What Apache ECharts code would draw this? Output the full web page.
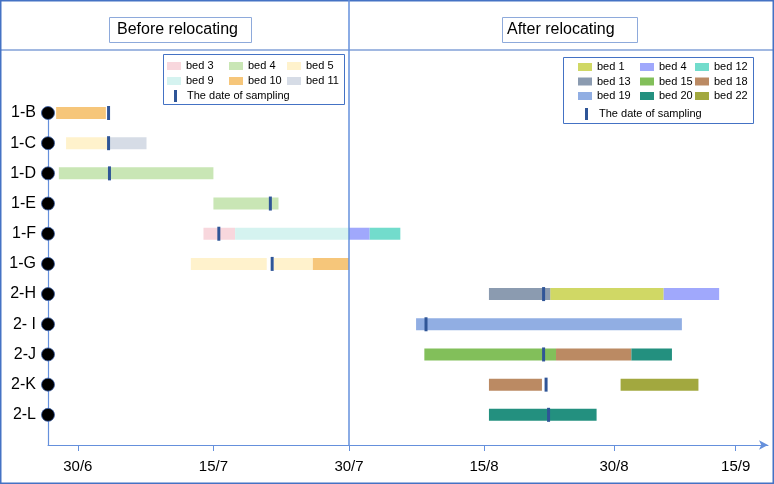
<!DOCTYPE html>
<html>
<head>
<meta charset="utf-8">
<script src="https://cdn.jsdelivr.net/npm/echarts@6/dist/echarts.min.js"></script>
<style>
  html, body { margin: 0; padding: 0; background: #fff; }
  #chart { width: 774px; height: 484px; }
</style>
</head>
<body>
<div id="chart"></div>
<script>
// rows (top to bottom), last slot is the empty space above the x axis
var rows = ['1-B', '1-C', '1-D', '1-E', '1-F', '1-G', '2-H', '2- I', '2-J', '2-K', '2-L'];

// x values are days counted from 30/6
var tickLabels = ['30/6', '15/7', '30/7', '15/8', '30/8', '15/9'];
var tickDays = [0, 15, 30, 46.3, 62, 76.7];

// before relocating: [start, end, row]
var bed3 = [[13.9, 17.4, '1-F']];
var bed4Before = [[-2.1, 15.0, '1-D'], [15.0, 22.2, '1-E']];
var bed5 = [[-1.3, 3.4, '1-C'], [12.5, 20.9, '1-G'], [21.7, 26.0, '1-G']];
var bed9 = [[17.4, 30, '1-F']];
var bed10 = [[-2.4, 3.1, '1-B'], [26.0, 30, '1-G']];
var bed11 = [[3.5, 7.6, '1-C']];
var samplingBefore = [[3.4, '1-B'], [3.4, '1-C'], [3.5, '1-D'], [21.3, '1-E'], [15.6, '1-F'], [21.5, '1-G']];

// after relocating
var bed1 = [[54.3, 68.0, '2-H']];
var bed4After = [[30, 32.5, '1-F'], [68.0, 74.7, '2-H']];
var bed12 = [[32.5, 36.2, '1-F']];
var bed13 = [[46.9, 54.3, '2-H']];
var bed15 = [[39.1, 55.0, '2-J']];
var bed18 = [[55.0, 64.1, '2-J'], [46.9, 53.3, '2-K']];
var bed19 = [[38.1, 70.2, '2- I']];
var bed20 = [[64.1, 69.0, '2-J'], [46.9, 59.9, '2-L']];
var bed22 = [[62.8, 72.2, '2-K']];
var samplingAfter = [[53.5, '2-H'], [39.3, '2- I'], [53.5, '2-J'], [53.8, '2-K'], [54.1, '2-L']];

var blue = '#4472c4';
var axisBlue = '#6590dc';
var markColor = '#2f5597';
var font = 'Liberation Sans, Arial, sans-serif';

var chart = echarts.init(document.getElementById('chart'));

function renderBar(params, api) {
  var s = api.coord([api.value(0), api.value(2)]);
  var e = api.coord([api.value(1), api.value(2)]);
  var h = 12;
  return {
    type: 'rect',
    shape: { x: s[0], y: s[1] - h / 2, width: e[0] - s[0], height: h },
    style: { fill: api.visual('color') }
  };
}

function renderMark(params, api) {
  var p = api.coord([api.value(0), api.value(1)]);
  return {
    type: 'rect',
    shape: { x: p[0] - 1.5, y: p[1] - 7, width: 3, height: 14 },
    style: { fill: markColor }
  };
}

function barSeries(name, data, color, idx) {
  return {
    name: name,
    type: 'custom',
    xAxisIndex: idx,
    yAxisIndex: idx,
    renderItem: renderBar,
    itemStyle: { color: color },
    encode: { x: [0, 1], y: 2 },
    data: data,
    z: 3
  };
}

function markSeries(data, idx) {
  return {
    name: 'The date of sampling',
    type: 'custom',
    xAxisIndex: idx,
    yAxisIndex: idx,
    renderItem: renderMark,
    itemStyle: { color: markColor },
    encode: { x: 0, y: 1 },
    data: data,
    z: 5
  };
}

var legendText = { color: '#000', fontFamily: font, fontSize: 11, lineHeight: 14 };

function colLegend(left, top, items) {
  return {
    orient: 'vertical',
    left: left,
    top: top,
    padding: 0,
    itemGap: 1,
    itemWidth: 14,
    itemHeight: 8,
    icon: 'rect',
    selectedMode: false,
    textStyle: legendText,
    data: items
  };
}

function markLegend(left, top) {
  return {
    left: left,
    top: top,
    padding: 0,
    itemWidth: 3,
    itemHeight: 12,
    icon: 'rect',
    selectedMode: false,
    textStyle: Object.assign({}, legendText, { padding: [0, 0, 0, 5] }),
    data: ['The date of sampling']
  };
}

function xAxis(idx, min, max, ticks, arrow) {
  return {
    gridIndex: idx,
    type: 'value',
    min: min,
    max: max,
    axisLine: {
      show: true,
      onZero: false,
      lineStyle: { color: axisBlue, width: 1 },
      symbol: arrow ? ['none', 'arrow'] : ['none', 'none'],
      symbolSize: [7, 9]
    },
    axisTick: { show: true, length: 6, customValues: ticks, lineStyle: { color: axisBlue } },
    axisLabel: {
      customValues: ticks,
      margin: 14,
      color: '#000',
      fontFamily: font,
      fontSize: 15,
      formatter: function (v) { return tickLabels[tickDays.indexOf(v)]; }
    },
    splitLine: { show: false }
  };
}

function yAxis(idx, show) {
  return {
    gridIndex: idx,
    type: 'category',
    inverse: true,
    boundaryGap: false,
    data: rows.concat(['']),
    show: show,
    axisLine: { show: true, onZero: false, lineStyle: { color: axisBlue, width: 1.2 } },
    axisTick: { show: false },
    axisLabel: { margin: 12, color: '#000', fontFamily: font, fontSize: 16 },
    splitLine: { show: false }
  };
}

var option = {
  animation: false,
  backgroundColor: '#fff',
  grid: [
    { left: 48, top: 113, width: 301, height: 332, containLabel: false, outerBoundsMode: 'none' },
    { left: 349, top: 113, width: 419, height: 332, containLabel: false, outerBoundsMode: 'none' }
  ],
  xAxis: [
    xAxis(0, -3.3, 30, tickDays.slice(0, 2), false),
    xAxis(1, 30, 80.6, tickDays.slice(2), true)
  ],
  yAxis: [yAxis(0, true), yAxis(1, false)],
  legend: [
    colLegend(167, 59, ['bed 3', 'bed 9']),
    colLegend(229, 59, [{ name: 'bed 4', itemStyle: { color: '#c9e6b5' } }, 'bed 10']),
    colLegend(287, 59, ['bed 5', 'bed 11']),
    markLegend(174, 89),
    Object.assign(colLegend(578, 60, ['bed 1', 'bed 13', 'bed 19']), { itemGap: 0.5 }),
    Object.assign(colLegend(640, 60, [{ name: 'bed 4', itemStyle: { color: '#a0a8fc' } }, 'bed 15', 'bed 20']), { itemGap: 0.5 }),
    Object.assign(colLegend(695, 60, ['bed 12', 'bed 18', 'bed 22']), { itemGap: 0.5 }),
    Object.assign(markLegend(585, 107), { textStyle: Object.assign({}, legendText, { padding: [0, 0, 0, 6] }) })
  ],
  graphic: [
    { type: 'rect', shape: { x: 0.75, y: 0.75, width: 772.5, height: 482.5 }, style: { fill: null, stroke: blue, lineWidth: 1.5 }, z: 10 },
    { type: 'line', shape: { x1: 0, y1: 50, x2: 774, y2: 50 }, style: { stroke: blue, lineWidth: 1.2 }, z: 10 },
    { type: 'line', shape: { x1: 349, y1: 0, x2: 349, y2: 445 }, style: { stroke: axisBlue, lineWidth: 1.5 }, z: 10 },
    { type: 'rect', shape: { x: 109.5, y: 17.5, width: 142, height: 25 }, style: { fill: '#fff', stroke: '#8eaadb', lineWidth: 1 }, z: 10 },
    { type: 'text', x: 117, y: 30, style: { text: 'Before relocating', fill: '#000', font: '16px ' + font, textVerticalAlign: 'middle' }, z: 11 },
    { type: 'rect', shape: { x: 502.5, y: 17.5, width: 135, height: 25 }, style: { fill: '#fff', stroke: '#8eaadb', lineWidth: 1 }, z: 10 },
    { type: 'text', x: 507, y: 30, style: { text: 'After relocating', fill: '#000', font: '16px ' + font, textVerticalAlign: 'middle' }, z: 11 },
    { type: 'rect', shape: { x: 163.5, y: 54.5, width: 181, height: 50 }, style: { fill: null, stroke: blue, lineWidth: 1 }, z: 10 },
    { type: 'rect', shape: { x: 563.5, y: 57.5, width: 190, height: 66 }, style: { fill: null, stroke: blue, lineWidth: 1 }, z: 10 }
  ],
  series: [
    barSeries('bed 3', bed3, '#f8d7dd', 0),
    barSeries('bed 4', bed4Before, '#c9e6b5', 0),
    barSeries('bed 5', bed5, '#fff2cc', 0),
    barSeries('bed 9', bed9, '#d5f3f0', 0),
    barSeries('bed 10', bed10, '#f6c67a', 0),
    barSeries('bed 11', bed11, '#d6dce6', 0),
    markSeries(samplingBefore, 0),
    barSeries('bed 1', bed1, '#d0d865', 1),
    barSeries('bed 4', bed4After, '#a0a8fc', 1),
    barSeries('bed 12', bed12, '#72dccc', 1),
    barSeries('bed 13', bed13, '#8b9bb0', 1),
    barSeries('bed 15', bed15, '#82bf5a', 1),
    barSeries('bed 18', bed18, '#bb8a63', 1),
    barSeries('bed 19', bed19, '#91aee3', 1),
    barSeries('bed 20', bed20, '#23907f', 1),
    barSeries('bed 22', bed22, '#a2a83f', 1),
    markSeries(samplingAfter, 1),
    {
      name: 'dots',
      type: 'scatter',
      xAxisIndex: 0,
      yAxisIndex: 0,
      clip: false,
      symbol: 'circle',
      symbolSize: 13,
      itemStyle: { color: '#000', borderColor: '#3a5fa8', borderWidth: 0.8, opacity: 1 },
      data: rows.map(function (r) { return [-3.3, r]; }),
      z: 6
    }
  ]
};

chart.setOption(option);
</script>
</body>
</html>
